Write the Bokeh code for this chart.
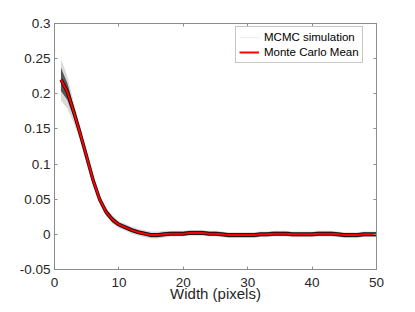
from bokeh.plotting import figure
from bokeh.models import Range1d, FixedTicker, LinearAxis, Legend, LegendItem, CustomJSTickFormatter
from bokeh.embed import file_html
from bokeh.resources import INLINE

# ---- data ----
width_px = list(range(1, 51))
mc_mean = [0.220, 0.203, 0.174, 0.143, 0.110, 0.077, 0.050, 0.032, 0.021, 0.014,
           0.010, 0.006, 0.003, 0.001, -0.001, -0.001, 0.000, 0.001, 0.001, 0.001,
           0.002, 0.002, 0.002, 0.001, 0.001, 0.000, -0.001, -0.001, -0.001, -0.001,
           -0.001, 0.000, 0.000, 0.001, 0.001, 0.001, 0.000, 0.000, 0.000, 0.000,
           0.001, 0.001, 0.001, 0.000, -0.001, -0.001, -0.001, 0.000, 0.000, 0.000]
# envelope of the MCMC simulation curves (offsets above / below the mean)
outer_up = [0.030, 0.022, 0.014, 0.010, 0.008, 0.007, 0.006, 0.006, 0.006, 0.005,
            0.005, 0.005, 0.005, 0.005, 0.005, 0.005, 0.005, 0.004, 0.004, 0.004,
            0.004, 0.004, 0.004, 0.004, 0.004, 0.004, 0.004, 0.004, 0.004, 0.004,
            0.004, 0.004, 0.004, 0.004, 0.004, 0.004, 0.004, 0.004, 0.004, 0.004,
            0.004, 0.004, 0.004, 0.004, 0.004, 0.004, 0.004, 0.004, 0.004, 0.004]
outer_dn = [0.030, 0.024, 0.016, 0.011, 0.009, 0.007, 0.006, 0.006, 0.006, 0.005,
            0.005, 0.005, 0.005, 0.005, 0.005, 0.005, 0.005, 0.004, 0.004, 0.004,
            0.004, 0.004, 0.004, 0.004, 0.004, 0.004, 0.004, 0.004, 0.004, 0.004,
            0.004, 0.004, 0.004, 0.004, 0.004, 0.004, 0.004, 0.004, 0.004, 0.004,
            0.004, 0.004, 0.004, 0.004, 0.004, 0.004, 0.004, 0.004, 0.004, 0.004]
inner_up = [0.017, 0.012, 0.008, 0.006, 0.005, 0.004, 0.004, 0.004, 0.004, 0.003,
            0.003, 0.003, 0.003, 0.003, 0.003, 0.003, 0.003, 0.003, 0.003, 0.003,
            0.003, 0.003, 0.003, 0.003, 0.003, 0.003, 0.003, 0.003, 0.003, 0.003,
            0.003, 0.003, 0.003, 0.003, 0.003, 0.003, 0.003, 0.003, 0.003, 0.003,
            0.003, 0.003, 0.003, 0.003, 0.003, 0.003, 0.003, 0.003, 0.003, 0.003]
inner_dn = [0.016, 0.012, 0.008, 0.006, 0.005, 0.004, 0.004, 0.004, 0.004, 0.003,
            0.003, 0.003, 0.003, 0.003, 0.003, 0.003, 0.003, 0.003, 0.003, 0.003,
            0.003, 0.003, 0.003, 0.003, 0.003, 0.003, 0.003, 0.003, 0.003, 0.003,
            0.003, 0.003, 0.003, 0.003, 0.003, 0.003, 0.003, 0.003, 0.003, 0.003,
            0.003, 0.003, 0.003, 0.003, 0.003, 0.003, 0.003, 0.003, 0.003, 0.003]

x_ticks = [0, 10, 20, 30, 40, 50]
y_ticks = [-0.05, 0, 0.05, 0.1, 0.15, 0.2, 0.25, 0.3]
y_tick_labels = ["-0.05", "0", "0.05", "0.1", "0.15", "0.2", "0.25", "0.3"]
x_label = "Width (pixels)"
legend_labels = ["MCMC simulation", "Monte Carlo Mean"]

FONT = "Liberation Sans"
AX = "#8c8c8c"
TXT = "#262626"

p = figure(width=407, height=304, output_backend="svg", toolbar_location=None,
           x_range=Range1d(0, 50), y_range=Range1d(-0.05, 0.3),
           min_border_left=54, min_border_right=31, min_border_top=23, min_border_bottom=33)
p.xgrid.visible = False
p.ygrid.visible = False
p.outline_line_color = AX
p.outline_line_alpha = 1.0
p.background_fill_color = "white"
p.border_fill_color = "white"

# bands
o_lo = [m - d for m, d in zip(mc_mean, outer_dn)]
o_hi = [m + u for m, u in zip(mc_mean, outer_up)]
i_lo = [m - d for m, d in zip(mc_mean, inner_dn)]
i_hi = [m + u for m, u in zip(mc_mean, inner_up)]

sim_leg = p.line(width_px, mc_mean, line_color="#eeeeee", line_width=1)
p.varea(x=width_px, y1=o_lo, y2=o_hi, fill_color="black", fill_alpha=0.15)
p.varea(x=width_px, y1=i_lo, y2=i_hi, fill_color="black", fill_alpha=0.6)
p.line(width_px, mc_mean, line_color="black", line_width=3.5, line_alpha=0.9)
mean_r = p.line(width_px, mc_mean, line_color="#ff0000", line_width=2)

for ax in (p.xaxis[0], p.yaxis[0]):
    ax.axis_line_color = AX
    ax.major_tick_line_color = AX
    ax.major_tick_in = 3
    ax.major_tick_out = 0
    ax.minor_tick_line_color = None
    ax.major_label_text_font = FONT
    ax.major_label_text_font_size = "13.5px"
    ax.major_label_text_color = TXT

p.xaxis.ticker = FixedTicker(ticks=x_ticks)
p.yaxis.ticker = FixedTicker(ticks=y_ticks)
p.yaxis.major_label_overrides = {t: s for t, s in zip(y_ticks, y_tick_labels)}
p.xaxis.major_label_standoff = 8
p.yaxis.major_label_standoff = 4
p.xaxis.axis_label = x_label
p.xaxis.axis_label_text_font = FONT
p.xaxis.axis_label_text_font_size = "15px"
p.xaxis.axis_label_text_font_style = "normal"
p.xaxis.axis_label_text_color = TXT
p.xaxis.axis_label_standoff = -5

blank = CustomJSTickFormatter(code="return ''")
top = LinearAxis(ticker=FixedTicker(ticks=x_ticks), formatter=blank,
                 axis_line_color=AX, major_tick_line_color=AX, major_tick_in=3,
                 major_tick_out=0, minor_tick_line_color=None, major_label_standoff=0)
right = LinearAxis(ticker=FixedTicker(ticks=y_ticks), formatter=blank,
                   axis_line_color=AX, major_tick_line_color=AX, major_tick_in=3,
                   major_tick_out=0, minor_tick_line_color=None, major_label_standoff=0)
p.add_layout(top, "above")
p.add_layout(right, "right")

legend = Legend(items=[LegendItem(label=legend_labels[0], renderers=[sim_leg]),
                       LegendItem(label=legend_labels[1], renderers=[mean_r])],
                location=(181, 206))
legend.label_text_font = FONT
legend.label_text_font_size = "11.5px"
legend.label_text_color = "black"
legend.border_line_color = AX
legend.background_fill_alpha = 1.0
legend.glyph_width = 20
legend.glyph_height = 14
legend.label_height = 14
legend.label_standoff = 5
legend.spacing = 1
legend.padding = 3
legend.margin = 0
p.add_layout(legend, "center")

open("out.html", "w").write(file_html(p, INLINE))
